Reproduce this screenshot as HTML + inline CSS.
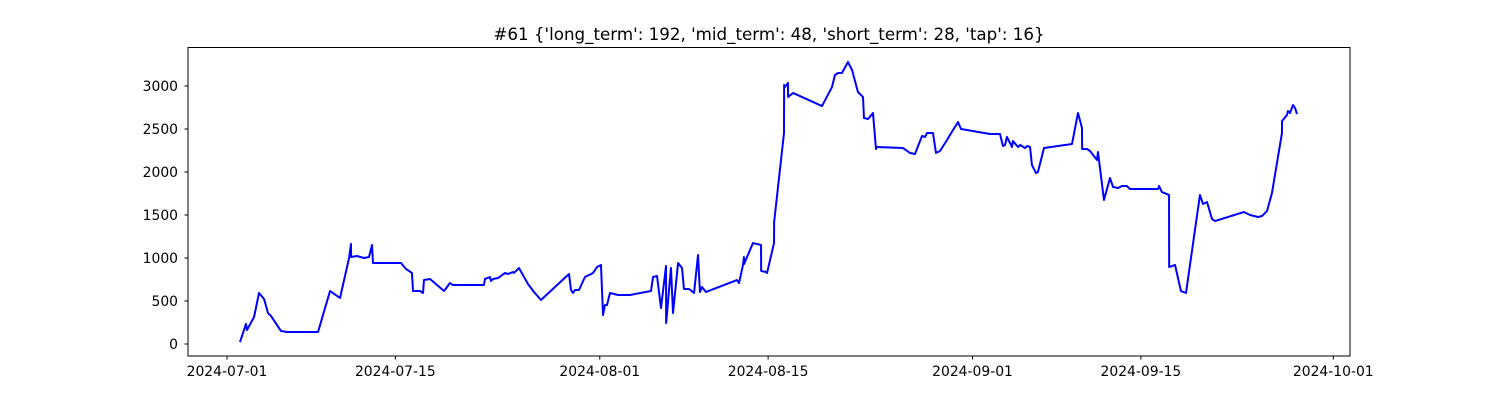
<!DOCTYPE html>
<html><head><meta charset="utf-8"><style>
body{margin:0;background:#fff;}
svg{display:block;font-family:"DejaVu Sans","Liberation Sans",sans-serif;}
</style></head><body>
<svg id="chart" width="1500" height="400" viewBox="0 0 1500 400" xmlns="http://www.w3.org/2000/svg">
<rect x="0" y="0" width="1500" height="400" fill="#fff"/>
<text x="769" y="40" text-anchor="middle" font-size="16.7" fill="#000">#61 {'long_term': 192, 'mid_term': 48, 'short_term': 28, 'tap': 16}</text>
<g id="ticks"></g>
<path id="series" fill="none" stroke="#0000ff" stroke-width="2" stroke-linejoin="round"/>
<rect x="188" y="47.5" width="1162" height="308.5" fill="none" stroke="#000" stroke-width="1"/>
</svg>
<script>
const dayOffsets = [1.08,1.58,1.66,2.25,2.66,3.08,3.41,3.66,4.49,4.99,7.57,8.57,9.40,10.15,10.31,10.32,10.81,11.39,11.81,12.06,12.14,14.47,14.89,15.38,15.47,16.05,16.30,16.38,16.88,18.05,18.54,18.79,21.37,21.45,21.87,21.95,22.12,22.54,23.12,23.37,23.78,23.87,24.28,25.03,25.53,26.11,28.44,28.61,28.77,28.94,29.27,29.77,30.44,30.77,31.10,31.27,31.43,31.60,31.85,32.52,33.51,35.26,35.43,35.76,36.09,36.51,36.52,36.92,37.09,37.51,37.84,38.00,38.42,38.84,39.17,39.33,39.50,39.83,42.41,42.58,42.91,42.99,43.00,43.74,44.41,44.42,44.82,44.91,45.49,45.50,46.32,46.33,46.40,46.65,46.66,47.07,49.48,50.31,50.56,50.81,51.14,51.64,51.98,52.47,52.89,52.97,53.31,53.72,53.97,53.98,56.22,56.80,57.21,57.80,58.05,58.21,58.71,58.96,59.29,59.88,60.12,60.79,61.04,63.45,64.28,64.53,64.70,64.86,65.28,65.36,65.78,65.95,66.36,66.53,66.78,66.94,67.28,67.44,67.94,70.27,70.77,71.10,71.11,71.52,71.77,72.35,72.43,72.93,73.43,73.68,74.10,74.43,74.84,75.09,77.42,77.51,77.75,78.34,78.35,78.84,79.33,79.75,80.91,81.16,81.50,81.91,82.16,84.57,85.07,85.74,86.07,86.49,86.90,87.73,87.74,88.15,88.23,88.40,88.65,88.82,88.98];
const values = [23,233,163,314,593,523,360,326,151,140,140,616,535,1000,1163,1012,1023,1000,1012,1151,942,942,872,826,616,616,593,744,756,616,709,686,686,756,779,733,756,767,826,814,837,826,884,698,605,512,814,628,593,628,628,779,826,895,919,337,453,453,593,570,570,616,779,791,419,907,244,884,360,942,884,640,640,593,1035,605,663,605,744,709,919,1012,930,1174,1151,849,837,826,1174,1419,2453,3012,2988,3035,2872,2919,2767,2988,3128,3151,3151,3279,3186,2930,2872,2628,2616,2686,2267,2291,2279,2221,2209,2419,2407,2453,2453,2221,2244,2372,2430,2581,2500,2442,2442,2302,2314,2407,2291,2360,2291,2314,2279,2302,2291,2081,1988,2000,2279,2326,2686,2512,2267,2267,2244,2140,2233,1674,1930,1826,1814,1837,1837,1802,1802,1837,1767,1733,895,919,616,593,1733,1628,1651,1454,1430,1535,1500,1477,1488,1547,1756,2453,2593,2663,2709,2686,2779,2744,2674];
const xTickDays = [0,14,31,45,62,76,92];
const xTickLabels = ["2024-07-01","2024-07-15","2024-08-01","2024-08-15","2024-09-01","2024-09-15","2024-10-01"];
const yTickValues = [0,500,1000,1500,2000,2500,3000];

const NS = "http://www.w3.org/2000/svg";
function xScale(d){ return 227 + d*12.025; }
function yScale(v){ return 344 - v*0.086; }

const g = document.getElementById('ticks');
function mk(tag, attrs){ const e=document.createElementNS(NS,tag); for(const k in attrs) e.setAttribute(k,attrs[k]); return e; }
xTickDays.forEach((d,i)=>{
  const x = xScale(d);
  const t = mk('line',{x1:x,x2:x,y1:356,y2:359.5,stroke:'#000','stroke-width':1});
  
  
  g.appendChild(t);
  const l = mk('text',{x:x,y:376,'text-anchor':'middle','font-size':13.9,fill:'#000'});
  
  
  l.textContent = xTickLabels[i];
  g.appendChild(l);
});
yTickValues.forEach(v=>{
  const y = yScale(v);
  const t = mk('line',{x1:184.5,x2:188,y1:y,y2:y,stroke:'#000','stroke-width':1});
  
  
  g.appendChild(t);
  const l = mk('text',{x:178,y:y+5,'text-anchor':'end','font-size':13.9,fill:'#000'});
  
  
  l.textContent = String(v);
  g.appendChild(l);
});
let dstr = '';
dayOffsets.forEach((d,i)=>{ dstr += (i?'L':'M') + xScale(d).toFixed(2) + ',' + yScale(values[i]).toFixed(2); });
document.getElementById('series').setAttribute('d', dstr);
</script>
</body></html>
